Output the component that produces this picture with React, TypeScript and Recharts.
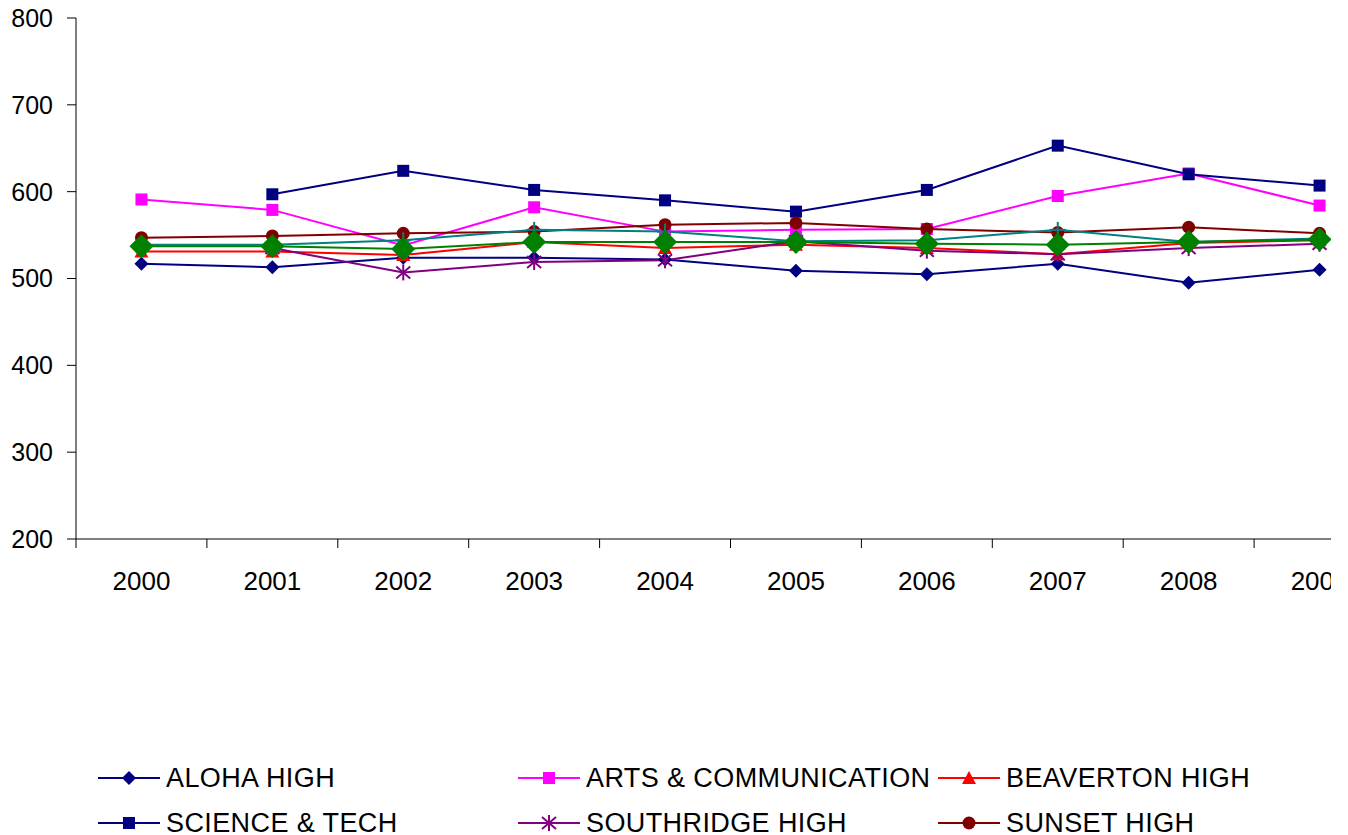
import React from "react";
import { Line, LineChart, XAxis, YAxis } from "recharts";

const years = ["2000", "2001", "2002", "2003", "2004", "2005", "2006", "2007", "2008", "2009"];
const aloha = [517, 513, 524, 524, 522, 509, 505, 517, 495, 510];
const arts = [591, 579, 538, 582, 554, 556, 557, 595, 621, 584];
const beaverton = [531, 531, 527, 542, 535, 539, 535, 528, 541, 544];
const science = [null, 597, 624, 602, 590, 577, 602, 653, 620, 607];
const southridge = [null, 535, 507, 519, 521, 543, 532, 528, 535, 540];
const sunset = [547, 549, 552, 554, 562, 564, 557, 553, 559, 552];
const westview = [539, 539, 544, 556, 554, 543, 544, 556, 542, 546];
const district = [537, 537, 534, 542, 542, 542, 540, 539, 542, 545];
const yTicks = [200, 300, 400, 500, 600, 700, 800];

type Shape = "diamond" | "square" | "triangle" | "star" | "circle" | "plus" | "bigDiamond";

const series: { key: string; name: string; color: string; shape: Shape; values: (number | null)[] }[] = [
  { key: "aloha", name: "ALOHA HIGH", color: "#000080", shape: "diamond", values: aloha },
  { key: "arts", name: "ARTS & COMMUNICATION", color: "#FF00FF", shape: "square", values: arts },
  { key: "beaverton", name: "BEAVERTON HIGH", color: "#FF0000", shape: "triangle", values: beaverton },
  { key: "science", name: "SCIENCE & TECH", color: "#000080", shape: "square", values: science },
  { key: "southridge", name: "SOUTHRIDGE HIGH", color: "#800080", shape: "star", values: southridge },
  { key: "sunset", name: "SUNSET HIGH", color: "#800000", shape: "circle", values: sunset },
  { key: "westview", name: "WESTVIEW HIGH", color: "#008080", shape: "plus", values: westview },
  { key: "district", name: "DISTRICT", color: "#008000", shape: "bigDiamond", values: district },
];

const data = years.map((year, i) => {
  const row: Record<string, string | number | null> = { year };
  series.forEach((s) => {
    row[s.key] = s.values[i];
  });
  return row;
});

const FONT = "'Liberation Sans', Arial, sans-serif";
const CHART_W = 1400;
const CHART_H = 835;
const MARGIN = { top: 18, right: 15, left: 0, bottom: 236 };
const Y_W = 76;
const BAND = (CHART_W - MARGIN.left - MARGIN.right - Y_W) / years.length;

const Marker = ({ cx, cy, shape, color }: { cx: number; cy: number; shape: Shape; color: string }) => {
  switch (shape) {
    case "diamond":
      return <polygon points={`${cx},${cy - 7} ${cx + 7},${cy} ${cx},${cy + 7} ${cx - 7},${cy}`} fill={color} />;
    case "bigDiamond":
      return <polygon points={`${cx},${cy - 12} ${cx + 12},${cy} ${cx},${cy + 12} ${cx - 12},${cy}`} fill={color} />;
    case "square":
      return <rect x={cx - 6} y={cy - 6} width={12} height={12} fill={color} />;
    case "triangle":
      return <polygon points={`${cx},${cy - 7} ${cx + 7},${cy + 6} ${cx - 7},${cy + 6}`} fill={color} />;
    case "circle":
      return <circle cx={cx} cy={cy} r={6.5} fill={color} />;
    case "plus":
      return (
        <g stroke={color} strokeWidth={2}>
          <line x1={cx} y1={cy - 8} x2={cx} y2={cy + 8} />
          <line x1={cx - 8} y1={cy} x2={cx + 8} y2={cy} />
        </g>
      );
    case "star":
      return (
        <g stroke={color} strokeWidth={2}>
          <line x1={cx} y1={cy - 8} x2={cx} y2={cy + 8} />
          <line x1={cx - 7} y1={cy - 6} x2={cx + 7} y2={cy + 6} />
          <line x1={cx - 7} y1={cy + 6} x2={cx + 7} y2={cy - 6} />
        </g>
      );
    default:
      return null;
  }
};

// label plus a tick mark on the left edge of each category band
const XTick = (props: any) => {
  const { x, y, payload } = props;
  return (
    <g>
      <line x1={x - BAND / 2} y1={y - 8} x2={x - BAND / 2} y2={y + 1} stroke="#000" strokeWidth={1} />
      <text x={x} y={y + 43} textAnchor="middle" fontFamily={FONT} fontSize={26} fill="#000">
        {payload.value}
      </text>
    </g>
  );
};

const LegendBox = () => (
  <div style={{ position: "absolute", left: 0, top: 0, width: 1331, height: 835, pointerEvents: "none" }}>
    {series.map((s, i) => {
      const col = i % 3;
      const row = Math.floor(i / 3);
      const left = 98 + col * 420;
      const top = 778 + row * 45;
      return (
        <div key={s.key} style={{ position: "absolute", left, top: top - 16, height: 32, display: "flex", alignItems: "center", whiteSpace: "nowrap" }}>
          <svg width={62} height={32} style={{ display: "block" }}>
            <line x1={0} y1={16} x2={62} y2={16} stroke={s.color} strokeWidth={2} />
            <Marker cx={31} cy={16} shape={s.shape} color={s.color} />
          </svg>
          <span style={{ marginLeft: 6, fontFamily: FONT, fontSize: 27, letterSpacing: 0.4, color: "#000", lineHeight: "32px" }}>
            {s.name}
          </span>
        </div>
      );
    })}
  </div>
);

export default function App() {
  return (
    <div style={{ position: "absolute", left: 0, top: 0, width: 1331, height: 835, overflow: "hidden", background: "#fff" }}>
      <LineChart width={CHART_W} height={CHART_H} data={data} margin={MARGIN}>
        <XAxis
          dataKey="year"
          type="category"
          tickLine={false}
          tickSize={8}
          tickMargin={0}
          tick={<XTick />}
          height={60}
          axisLine={{ stroke: "#000" }}
          interval={0}
          padding={{ left: BAND / 2, right: BAND / 2 }}
        />
        <YAxis
          type="number"
          domain={[200, 800]}
          ticks={yTicks}
          width={Y_W}
          tickSize={9}
          tickMargin={14}
          axisLine={{ stroke: "#000" }}
          tickLine={{ stroke: "#000" }}
          tick={{ fontFamily: FONT, fontSize: 25, fill: "#000" }}
        />
        {series.map((s) => (
          <Line
            key={s.key}
            dataKey={s.key}
            name={s.name}
            stroke={s.color}
            strokeWidth={2}
            type="linear"
            isAnimationActive={false}
            dot={(p: any) =>
              p.cy == null || p.value == null ? (
                <g key={`${s.key}-${p.index}`} />
              ) : (
                <Marker key={`${s.key}-${p.index}`} cx={p.cx} cy={p.cy} shape={s.shape} color={s.color} />
              )
            }
            activeDot={false}
          />
        ))}
      </LineChart>
      <LegendBox />
    </div>
  );
}
